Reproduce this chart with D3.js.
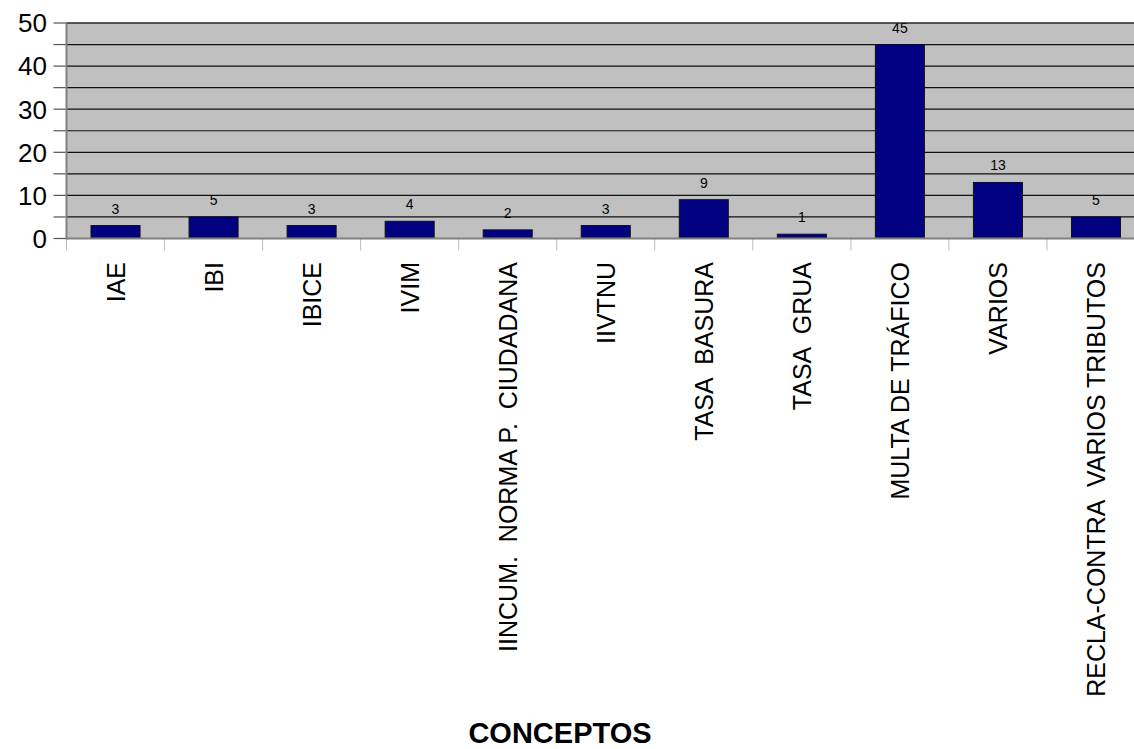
<!DOCTYPE html>
<html><head><meta charset="utf-8">
<script src="https://cdn.jsdelivr.net/npm/d3@7"></script>
<style>html,body{margin:0;padding:0;background:#fff;overflow:hidden}</style>
</head><body>
<svg id="c" width="1134" height="749"></svg>
<script>
const categories = ["IAE","IBI","IBICE","IVIM","IINCUM.  NORMA P.  CIUDADANA","IIVTNU","TASA  BASURA","TASA  GRUA","MULTA DE TRÁFICO","VARIOS","RECLA-CONTRA  VARIOS TRIBUTOS"];
const values = [3,5,3,4,2,3,9,1,45,13,5];
const yTickLabels = [0,10,20,30,40,50];
const yGridValues = [0,5,10,15,20,25,30,35,40,45,50];
const xTitle = "CONCEPTOS";

const svg = d3.select("#c");
const font = "'Liberation Sans', Arial, sans-serif";
const L = 66.5, R = 1145, T = 23, B = 238.5;

const x = d3.scaleBand().domain(categories).range([L, R]).paddingInner(0.5).paddingOuter(0.25);
const x0 = d3.scaleBand().domain(categories).range([L, R]);
const y = d3.scaleLinear().domain([0, 50]).range([B, T]);

svg.append("rect").attr("x", L).attr("y", T).attr("width", R - L).attr("height", B - T).attr("fill", "#c0c0c0");

// gridlines
svg.append("g").selectAll("line").data(yGridValues.filter(v => v > 0)).join("line")
  .attr("x1", L).attr("x2", R).attr("y1", d => y(d)).attr("y2", d => y(d))
  .attr("stroke", "#111").attr("stroke-width", 1.2);

// y axis ticks (every 5) and labels (every 10)
svg.append("g").selectAll("line").data(yGridValues).join("line")
  .attr("x1", L - 13).attr("x2", L).attr("y1", d => y(d)).attr("y2", d => y(d))
  .attr("stroke", "#555").attr("stroke-width", 1.2);
svg.append("g").selectAll("text").data(yTickLabels).join("text")
  .attr("x", 47).attr("y", d => y(d)).attr("dy", "0.36em")
  .attr("text-anchor", "end").attr("font-family", font).attr("font-size", 26).attr("fill", "#000")
  .text(d => d);

// x ticks at category boundaries
const bounds = categories.map(c => x0(c)).concat([R]);
svg.append("g").selectAll("line").data(bounds).join("line")
  .attr("x1", d => d).attr("x2", d => d).attr("y1", B).attr("y2", B + 12)
  .attr("stroke", "#bbb").attr("stroke-width", 1);

// bars
svg.append("g").selectAll("rect").data(values).join("rect")
  .attr("x", (d, i) => x(categories[i])).attr("width", x.bandwidth())
  .attr("y", d => y(d)).attr("height", d => B - y(d))
  .attr("fill", "#000080").attr("stroke", "#111").attr("stroke-width", 1);

// value labels
svg.append("g").selectAll("text").data(values).join("text")
  .attr("x", (d, i) => x(categories[i]) + x.bandwidth() / 2).attr("y", d => y(d) - 12)
  .attr("text-anchor", "middle").attr("font-family", font).attr("font-size", 14).attr("fill", "#000")
  .text(d => d);

// axis lines
svg.append("line").attr("x1", L).attr("x2", L).attr("y1", T).attr("y2", B + 1)
  .attr("stroke", "#808080").attr("stroke-width", 2);
svg.append("line").attr("x1", L).attr("x2", R).attr("y1", B).attr("y2", B)
  .attr("stroke", "#808080").attr("stroke-width", 2);
svg.append("line").attr("x1", L).attr("x2", R).attr("y1", T).attr("y2", T)
  .attr("stroke", "#333").attr("stroke-width", 1.2);

// category labels
svg.append("g").selectAll("text").data(categories).join("text")
  .attr("transform", d => `translate(${x0(d) + x0.bandwidth() / 2},${262}) rotate(-90)`)
  .attr("dy", "0.36em").attr("text-anchor", "end")
  .attr("font-family", font).attr("font-size", 25).attr("fill", "#000")
  .style("white-space", "pre")
  .text(d => d);

// axis title
svg.append("text").attr("x", 560).attr("y", 743)
  .attr("text-anchor", "middle").attr("font-family", font).attr("font-size", 29)
  .attr("font-weight", "bold").attr("fill", "#000").text(xTitle);
</script>
</body></html>
